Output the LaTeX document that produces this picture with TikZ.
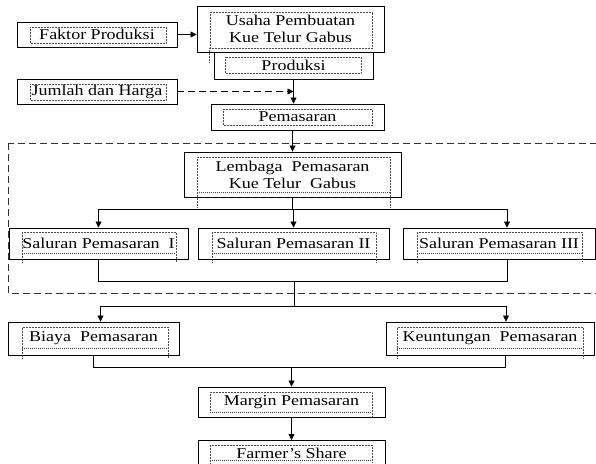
\documentclass[tikz,border=0pt]{standalone}
\usepackage{fontspec}
\setmainfont{Liberation Serif}[FakeStretch=1.2]
\usetikzlibrary{arrows.meta}
\begin{document}
\begin{tikzpicture}[x=1pt,y=-1pt,
  box/.style={draw, line width=0.9pt, inner sep=0pt, align=center,
    font=\fontsize{15}{17}\selectfont},
  dotframe/.style={draw=black!70, densely dotted, line width=0.5pt},
  dotbase/.style={draw=black!75, densely dotted, line width=1pt},
  conn/.style={line width=0.8pt},
  arr/.style={line width=0.8pt, -{Triangle[length=6pt,width=6pt]}},
  darr/.style={line width=0.8pt, dash pattern=on 7pt off 4pt, -{Triangle[length=6pt,width=6pt]}},
  grp/.style={line width=0.8pt, dash pattern=on 7pt off 4pt, draw=black!80}]
\useasboundingbox (0,0) rectangle (596,463);
\clip (0,0) rectangle (596,463);

% boxes
\node[box, minimum width=160pt, minimum height=25pt] (faktor) at (97,34.5) {Faktor Produksi};
\node[box, minimum width=160pt, minimum height=25pt] (jumlah) at (97,91.5) {Jumlah dan Harga};
\node[box, minimum width=187pt, minimum height=46pt] (usaha) at (290.5,29) {Usaha Pembuatan\\Kue Telur Gabus};
\node[box, minimum width=159pt, minimum height=27pt] (produksi) at (293.5,65.5) {Produksi};
\node[box, minimum width=173pt, minimum height=26pt] (pemasaran) at (297.5,117) {Pemasaran};
\node[box, minimum width=217pt, minimum height=45pt] (lembaga) at (292.5,174.5) {Lembaga\ \ Pemasaran\\Kue Telur\ \ Gabus};
\node[box, minimum width=179pt, minimum height=31pt] (sal1) at (98.5,243.5) {Saluran Pemasaran\ \ I};
\node[box, minimum width=191pt, minimum height=31pt] (sal2) at (293.5,243.5) {Saluran Pemasaran II};
\node[box, minimum width=192pt, minimum height=31pt] (sal3) at (499,243.5) {Saluran Pemasaran III};
\node[box, minimum width=171pt, minimum height=33pt] (biaya) at (93.5,338.5) {Biaya\ \ Pemasaran};
\node[box, minimum width=208pt, minimum height=33pt] (keunt) at (490,338.5) {Keuntungan\ \ Pemasaran};
\node[box, minimum width=187pt, minimum height=30pt] (margin) at (291.5,402) {Margin Pemasaran};
\node[box, minimum width=187pt, minimum height=35pt, anchor=north] (farmer) at (291.5,440) {\raisebox{10pt}{Farmer's Share}};

% dotted text frames
\draw[dotframe] (30,27) rectangle (166,43);
\draw[dotframe] (30,84) rectangle (166,100);
\draw[dotframe] (210,12) rectangle (372,48);
\draw[dotframe] (209,48) -- (209,63);
\draw[dotframe] (225,57) rectangle (361,73);
\draw[dotframe] (223,109) rectangle (372,125);
\draw[dotframe] (197,207) -- (197,157) -- (390,157) -- (390,207);
\draw[dotbase] (197,192) -- (390,192);
\draw[dotframe] (22,262) -- (22,232) -- (176,232) -- (176,262);
\draw[dotbase] (22,253) -- (176,253);
\draw[dotframe] (212,262) -- (212,232) -- (376,232) -- (376,262);
\draw[dotbase] (212,253) -- (376,253);
\draw[dotframe] (417,262) -- (417,232) -- (582,232) -- (582,262);
\draw[dotbase] (417,253) -- (582,253);
\draw[dotframe] (22,358) -- (22,327) -- (168,327) -- (168,358);
\draw[dotbase] (22,348) -- (168,348);
\draw[dotframe] (397,358) -- (397,327) -- (583,327) -- (583,358);
\draw[dotbase] (397,348) -- (583,348);
\draw[dotframe] (210,412) -- (210,392) -- (372,392) -- (372,418);
\draw[dotbase] (210,412) -- (372,412);
\draw[dotframe] (210,463) -- (210,445) -- (372,445) -- (372,463);
\draw[dotbase] (210,460) -- (372,460);

% dashed group frame
\draw[grp] (8,143) rectangle (620,293);

% connectors
\draw[arr] (faktor.east) -- (faktor.east -| usaha.west);
\draw[arr] (produksi.south) -- (produksi.south |- pemasaran.north);
\draw[darr] (jumlah.east) -- (jumlah.east -| produksi.south);
\draw[arr] (lembaga.north |- pemasaran.south) -- (lembaga.north);

\coordinate (bus1) at (292,209);
\draw[conn] (lembaga.south) -- (lembaga.south |- bus1);
\draw[conn] (sal1.north |- bus1) -- ([xshift=8pt]sal3.north |- bus1);
\draw[arr] (sal1.north |- bus1) -- (sal1.north);
\draw[arr] (sal2.north |- bus1) -- (sal2.north);
\draw[arr] ([xshift=8pt]sal3.north |- bus1) -- ([xshift=8pt]sal3.north);

\coordinate (bus2) at (294,281);
\coordinate (bus3) at (294,306);
\draw[conn] (sal1.south) -- (sal1.south |- bus2) -- ([xshift=8pt]sal3.south |- bus2) -- ([xshift=8pt]sal3.south);
\draw[conn] (bus2) -- (bus3);
\draw[conn] ([xshift=7pt]biaya.north |- bus3) -- ([xshift=16pt]keunt.north |- bus3);
\draw[arr] ([xshift=7pt]biaya.north |- bus3) -- ([xshift=7pt]biaya.north);
\draw[arr] ([xshift=16pt]keunt.north |- bus3) -- ([xshift=16pt]keunt.north);

\coordinate (bus4) at (292,367);
\draw[conn] (biaya.south) -- (biaya.south |- bus4) -- ([xshift=15pt]keunt.south |- bus4) -- ([xshift=15pt]keunt.south);
\draw[arr] (margin.north |- bus4) -- (margin.north);
\draw[arr] (margin.south) -- (farmer.north);
\end{tikzpicture}
\end{document}
